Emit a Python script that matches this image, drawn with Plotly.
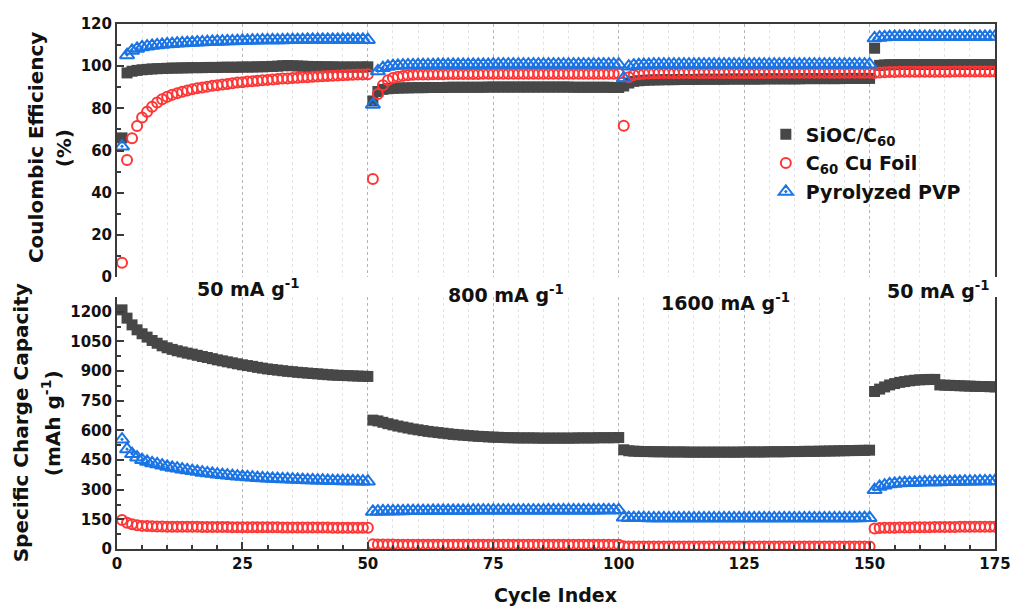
import plotly.graph_objects as go

# Cycle numbers (rate steps: 50 / 800 / 1600 / 50 mA g-1)
cycles = list(range(1, 176))

# ---------------- Coulombic efficiency (%) ----------------
ce_sioc_50 = [66.0, 96.8, 97.6, 98.0, 98.3, 98.5, 98.7, 98.8, 98.9, 99.0,
              99.1, 99.1, 99.2, 99.2, 99.3, 99.3, 99.3, 99.4, 99.4, 99.4,
              99.5, 99.5, 99.5, 99.5, 99.6, 99.6, 99.6, 99.7, 99.7, 99.8,
              99.9, 100.0, 100.2, 100.3, 100.2, 100.1, 100.0, 99.9, 99.8, 99.8,
              99.7, 99.7, 99.7, 99.6, 99.6, 99.6, 99.6, 99.6, 99.6, 99.7]
ce_sioc_800 = [83.5, 88.0, 89.0, 89.3, 89.5, 89.6, 89.7, 89.7, 89.8, 89.8,
               89.8, 89.9, 89.9, 89.9, 89.9, 90.0, 90.0, 90.0, 90.0, 90.0,
               90.0, 90.0, 90.0, 90.1, 90.1, 90.1, 90.1, 90.1, 90.1, 90.1,
               90.1, 90.1, 90.1, 90.1, 90.1, 90.1, 90.1, 90.1, 90.1, 90.1,
               90.0, 90.0, 90.0, 90.0, 90.0, 90.0, 90.0, 90.0, 89.9, 89.9]
ce_sioc_1600 = [90.6, 92.0, 92.8, 93.1, 93.3, 93.4, 93.5, 93.5, 93.6, 93.6,
                93.6, 93.7, 93.7, 93.7, 93.7, 93.8, 93.8, 93.8, 93.8, 93.8,
                93.8, 93.9, 93.9, 93.9, 93.9, 93.9, 93.9, 93.9, 94.0, 94.0,
                94.0, 94.0, 94.0, 94.0, 94.0, 94.0, 94.1, 94.1, 94.1, 94.1,
                94.1, 94.1, 94.1, 94.1, 94.2, 94.2, 94.2, 94.2, 94.2, 94.2]
ce_sioc_50b = [108.5, 100.4, 100.6, 100.7, 100.7, 100.8, 100.8, 100.8, 100.8, 100.8,
               100.8, 100.8, 100.8, 100.8, 100.8, 100.8, 100.8, 100.8, 100.8, 100.8,
               100.8, 100.8, 100.8, 100.8, 100.8]

ce_c60_50 = [6.8, 55.5, 65.8, 71.6, 75.7, 78.4, 80.8, 82.8, 84.3, 85.5,
             86.4, 87.2, 87.9, 88.5, 89.0, 89.5, 89.9, 90.3, 90.7, 91.0,
             91.3, 91.6, 91.9, 92.2, 92.4, 92.7, 92.9, 93.1, 93.3, 93.5,
             93.7, 93.9, 94.1, 94.2, 94.4, 94.5, 94.7, 94.8, 95.0, 95.1,
             95.2, 95.3, 95.5, 95.6, 95.7, 95.8, 95.9, 96.0, 96.1, 96.2]
ce_c60_800 = [46.5, 86.8, 91.0, 93.3, 94.4, 95.0, 95.4, 95.7, 95.9, 96.0,
              96.1, 96.1, 96.2, 96.2, 96.2, 96.3, 96.3, 96.3, 96.3, 96.3,
              96.3, 96.3, 96.4, 96.4, 96.4, 96.4, 96.4, 96.4, 96.4, 96.4,
              96.4, 96.4, 96.4, 96.4, 96.4, 96.4, 96.4, 96.4, 96.4, 96.4,
              96.4, 96.4, 96.4, 96.4, 96.4, 96.4, 96.4, 96.4, 96.4, 96.4]
ce_c60_1600 = [71.8, 94.8, 95.8, 96.2, 96.4, 96.5, 96.6, 96.6, 96.7, 96.7,
               96.7, 96.7, 96.8, 96.8, 96.8, 96.8, 96.8, 96.8, 96.8, 96.8,
               96.8, 96.8, 96.8, 96.8, 96.8, 96.8, 96.8, 96.8, 96.8, 96.8,
               96.9, 96.9, 96.9, 96.9, 96.9, 96.9, 96.9, 96.9, 96.9, 96.9,
               96.9, 96.9, 96.9, 96.9, 96.9, 96.9, 96.9, 96.9, 96.9, 96.9]
ce_c60_50b = [96.8, 97.0, 97.1, 97.2, 97.2, 97.3, 97.3, 97.3, 97.3, 97.4,
              97.4, 97.4, 97.4, 97.4, 97.4, 97.4, 97.5, 97.5, 97.5, 97.5,
              97.5, 97.5, 97.5, 97.5, 97.5]

ce_pvp_50 = [62.0, 105.3, 107.4, 108.3, 109.0, 109.4, 109.7, 110.0, 110.2, 110.4,
             110.6, 110.8, 110.9, 111.1, 111.2, 111.3, 111.4, 111.5, 111.6, 111.7,
             111.8, 111.9, 111.9, 112.0, 112.1, 112.1, 112.2, 112.2, 112.3, 112.3,
             112.4, 112.4, 112.4, 112.5, 112.5, 112.5, 112.5, 112.6, 112.6, 112.6,
             112.6, 112.6, 112.6, 112.6, 112.6, 112.6, 112.6, 112.6, 112.6, 112.5]
ce_pvp_800 = [81.8, 97.6, 99.2, 99.8, 100.1, 100.3, 100.4, 100.5, 100.5, 100.6,
              100.6, 100.6, 100.6, 100.7, 100.7, 100.7, 100.7, 100.7, 100.7, 100.7,
              100.7, 100.7, 100.7, 100.7, 100.8, 100.8, 100.8, 100.8, 100.8, 100.8,
              100.8, 100.8, 100.8, 100.8, 100.8, 100.8, 100.8, 100.8, 100.8, 100.8,
              100.8, 100.8, 100.8, 100.8, 100.8, 100.8, 100.8, 100.8, 100.8, 100.8]
ce_pvp_1600 = [94.3, 99.9, 100.4, 100.6, 100.7, 100.7, 100.8, 100.8, 100.8, 100.8,
               100.8, 100.8, 100.8, 100.8, 100.8, 100.8, 100.8, 100.8, 100.8, 100.8,
               100.8, 100.8, 100.8, 100.8, 100.8, 100.8, 100.8, 100.8, 100.8, 100.8,
               100.8, 100.8, 100.8, 100.8, 100.8, 100.8, 100.8, 100.8, 100.8, 100.8,
               100.8, 100.8, 100.8, 100.8, 100.8, 100.8, 100.8, 100.8, 100.8, 100.8]
ce_pvp_50b = [113.3, 113.6, 113.8, 113.9, 114.0, 114.0, 114.0, 114.0, 114.0, 114.0,
              114.0, 114.0, 114.0, 114.0, 114.0, 114.0, 114.0, 114.0, 114.0, 114.0,
              114.0, 114.0, 114.0, 114.0, 114.0]

# ---------------- Specific charge capacity (mAh g-1) ----------------
cap_sioc_50 = [1210, 1168, 1134, 1109, 1089, 1072, 1055, 1041, 1028, 1018,
               1010, 1003, 997, 991, 986, 980, 974, 969, 963, 957,
               952, 947, 942, 937, 932, 928, 924, 919, 915, 911,
               908, 905, 902, 899, 897, 894, 892, 890, 888, 886,
               884, 882, 880, 879, 878, 877, 876, 875, 874, 873]
cap_sioc_800 = [652, 648, 641, 634, 628, 622, 617, 612, 607, 603,
                599, 595, 592, 589, 586, 583, 580, 578, 576, 574,
                572, 570, 569, 567, 566, 565, 564, 563, 563, 562,
                562, 562, 562, 561, 561, 561, 561, 561, 561, 561,
                561, 562, 562, 562, 562, 563, 563, 563, 563, 564]
cap_sioc_1600 = [502, 497, 495, 494, 493, 493, 492, 492, 492, 491,
                 491, 491, 491, 490, 490, 490, 490, 490, 490, 490,
                 490, 490, 490, 490, 491, 491, 491, 491, 491, 492,
                 492, 492, 492, 493, 493, 493, 494, 494, 494, 495,
                 495, 496, 496, 497, 497, 498, 498, 499, 499, 500]
cap_sioc_50b = [797, 809, 820, 830, 837, 843, 847, 851, 854, 856,
                857, 858, 858, 830, 829, 828, 827, 826, 825, 824,
                823, 822, 822, 821, 820]

cap_c60_50 = [147, 133, 125, 120, 117, 116, 115, 114, 114, 113,
              113, 113, 112, 112, 112, 112, 111, 111, 111, 111,
              111, 111, 110, 110, 110, 110, 110, 110, 110, 110,
              110, 110, 109, 109, 109, 109, 109, 109, 109, 109,
              109, 109, 108, 108, 108, 108, 108, 108, 108, 108]
cap_c60_800 = [24, 23, 23, 23, 23, 22, 22, 22, 22, 22,
               22, 22, 22, 22, 22, 22, 22, 22, 22, 22,
               22, 22, 22, 22, 22, 22, 22, 22, 22, 22,
               22, 22, 22, 22, 22, 22, 22, 22, 22, 22,
               22, 22, 22, 22, 22, 22, 22, 22, 22, 22]
cap_c60_1600 = [14, 13, 13, 13, 13, 13, 13, 13, 13, 13,
                13, 13, 13, 13, 13, 13, 13, 13, 13, 13,
                13, 13, 13, 13, 13, 13, 13, 13, 13, 13,
                13, 13, 13, 13, 13, 13, 13, 13, 13, 13,
                13, 13, 13, 13, 13, 13, 13, 13, 13, 13]
cap_c60_50b = [104, 106, 107, 108, 108, 109, 109, 109, 110, 110,
               110, 110, 111, 111, 111, 111, 111, 112, 112, 112,
               112, 112, 113, 113, 113]

cap_pvp_50 = [555, 505, 481, 464, 451, 442, 435, 429, 423, 417,
              412, 408, 403, 399, 395, 391, 387, 384, 381, 378,
              375, 373, 370, 368, 366, 364, 362, 360, 358, 357,
              356, 355, 354, 353, 352, 351, 350, 349, 348, 347,
              347, 346, 345, 345, 344, 344, 343, 343, 342, 342]
cap_pvp_800 = [189, 190, 191, 191, 192, 192, 192, 193, 193, 193,
               193, 193, 194, 194, 194, 194, 194, 194, 194, 194,
               195, 195, 195, 195, 195, 195, 195, 195, 195, 195,
               195, 195, 195, 195, 195, 196, 196, 196, 196, 196,
               196, 196, 196, 196, 196, 196, 197, 197, 197, 197]
cap_pvp_1600 = [160, 158, 157, 157, 157, 156, 156, 156, 156, 156,
                156, 156, 156, 156, 156, 156, 156, 156, 156, 156,
                156, 156, 156, 156, 156, 156, 156, 156, 156, 156,
                156, 156, 156, 156, 156, 156, 156, 156, 156, 156,
                156, 156, 156, 156, 156, 156, 156, 156, 157, 157]
cap_pvp_50b = [299, 315, 322, 328, 331, 333, 334, 335, 336, 337,
               338, 338, 339, 339, 340, 340, 341, 341, 342, 342,
               342, 343, 343, 343, 344]

ce_sioc = ce_sioc_50 + ce_sioc_800 + ce_sioc_1600 + ce_sioc_50b
ce_c60 = ce_c60_50 + ce_c60_800 + ce_c60_1600 + ce_c60_50b
ce_pvp = ce_pvp_50 + ce_pvp_800 + ce_pvp_1600 + ce_pvp_50b
cap_sioc = cap_sioc_50 + cap_sioc_800 + cap_sioc_1600 + cap_sioc_50b
cap_c60 = cap_c60_50 + cap_c60_800 + cap_c60_1600 + cap_c60_50b
cap_pvp = cap_pvp_50 + cap_pvp_800 + cap_pvp_1600 + cap_pvp_50b

series_names = ["SiOC/C<sub>60</sub>", "C<sub>60</sub> Cu Foil", "Pyrolyzed PVP"]
rate_labels = ["50 mA g<sup>-1</sup>", "800 mA g<sup>-1</sup>",
               "1600 mA g<sup>-1</sup>", "50 mA g<sup>-1</sup>"]

FONT = "DejaVu Sans"
INK = "#111111"
AXIS = "#3a3a3a"

styles = [
    dict(symbol="square", size=11, color="#474747", line=dict(width=0)),
    dict(symbol="circle-open", size=10, color="#ff3535", line=dict(width=2, color="#ff3535")),
    dict(symbol="triangle-up-open-dot", size=12.5, color="#1b74e4", line=dict(width=2, color="#1b74e4")),
]

fig = go.Figure()
for name, ce, style in zip(series_names, [ce_sioc, ce_c60, ce_pvp], styles):
    fig.add_trace(go.Scatter(x=cycles, y=ce, mode="markers", name=name,
                             legendgroup=name, marker=style,
                             xaxis="x", yaxis="y"))
for name, cap, style in zip(series_names, [cap_sioc, cap_c60, cap_pvp], styles):
    fig.add_trace(go.Scatter(x=cycles, y=cap, mode="markers", name=name,
                             legendgroup=name, showlegend=False, marker=style,
                             xaxis="x2", yaxis="y2"))

tickfont = dict(family=FONT, size=15, color=INK, weight="bold")
major_grid = dict(showgrid=True, gridcolor="#b5b5b5", griddash="dot", gridwidth=1)
minor_x = dict(dtick=5, showgrid=True, gridcolor="#e4e4e4", griddash="dot", gridwidth=1)

fig.update_layout(
    width=1023, height=608,
    margin=dict(l=117, r=16, t=24, b=59),
    paper_bgcolor="white", plot_bgcolor="white",
    font=dict(family=FONT, color=INK),
    xaxis=dict(domain=[0, 1], anchor="y", range=[0, 175], matches="x2",
               side="top", showline=True, linecolor=AXIS, linewidth=2,
               ticks="", showticklabels=False, dtick=25, tick0=0,
               zeroline=False, minor=dict(minor_x), **major_grid),
    yaxis=dict(domain=[0.518, 1], anchor="x", range=[0, 120], dtick=20,
               showline=True, mirror=True, linecolor=AXIS, linewidth=2,
               ticks="inside", ticklen=7, tickwidth=1.5, tickcolor=AXIS,
               minor=dict(dtick=10, ticks="inside", ticklen=4, tickcolor=AXIS),
               showgrid=False, zeroline=False, tickfont=tickfont),
    xaxis2=dict(domain=[0, 1], anchor="y2", range=[0, 175], dtick=25, tick0=0,
                showline=True, linecolor=AXIS, linewidth=2,
                ticks="inside", ticklen=7, tickwidth=1.5, tickcolor=AXIS,
                minor=dict(minor_x, ticks="inside", ticklen=4, tickcolor=AXIS),
                zeroline=False, tickfont=tickfont, **major_grid),
    yaxis2=dict(domain=[0, 0.48], anchor="x2", range=[0, 1275], dtick=150,
                showline=True, mirror=True, linecolor=AXIS, linewidth=2,
                ticks="inside", ticklen=7, tickwidth=1.5, tickcolor=AXIS,
                minor=dict(dtick=75, ticks="inside", ticklen=4, tickcolor=AXIS),
                showgrid=False, zeroline=False, tickfont=tickfont),
    legend=dict(x=0.739, y=0.826, xanchor="left", yanchor="top",
                bgcolor="rgba(0,0,0,0)", tracegroupgap=1,
                font=dict(family=FONT, size=19, color=INK, weight="bold")),
    showlegend=True,
)

title_font = dict(family=FONT, size=20, color=INK, weight="bold")
axis_titles = [
    ("Coulombic Efficiency", -0.092, 0.764),
    ("(%)", -0.061, 0.764),
    ("Specific Charge Capacity", -0.109, 0.24),
    ("(mAh g<sup>-1</sup>)", -0.075, 0.24),
]
for text, xp, yp in axis_titles:
    fig.add_annotation(text=text, xref="paper", yref="paper", x=xp, y=yp,
                       textangle=-90, showarrow=False, xanchor="center",
                       yanchor="middle", font=title_font)
fig.add_annotation(text="Cycle Index", xref="paper", yref="paper", x=0.499,
                   y=-0.088, showarrow=False, xanchor="center", yanchor="middle",
                   font=dict(family=FONT, size=19, color=INK, weight="bold"))

# Current-density labels sitting between the two panels
rate_x = [26.3, 77.5, 121.3, 163.8]
rate_y = [0.497, 0.486, 0.470, 0.493]
for text, xd, yp in zip(rate_labels, rate_x, rate_y):
    fig.add_annotation(text=text, xref="x2", yref="paper", x=xd, y=yp,
                       showarrow=False, xanchor="center", yanchor="middle",
                       font=dict(family=FONT, size=19, color=INK, weight="bold"))

fig.write_html("out.html")
